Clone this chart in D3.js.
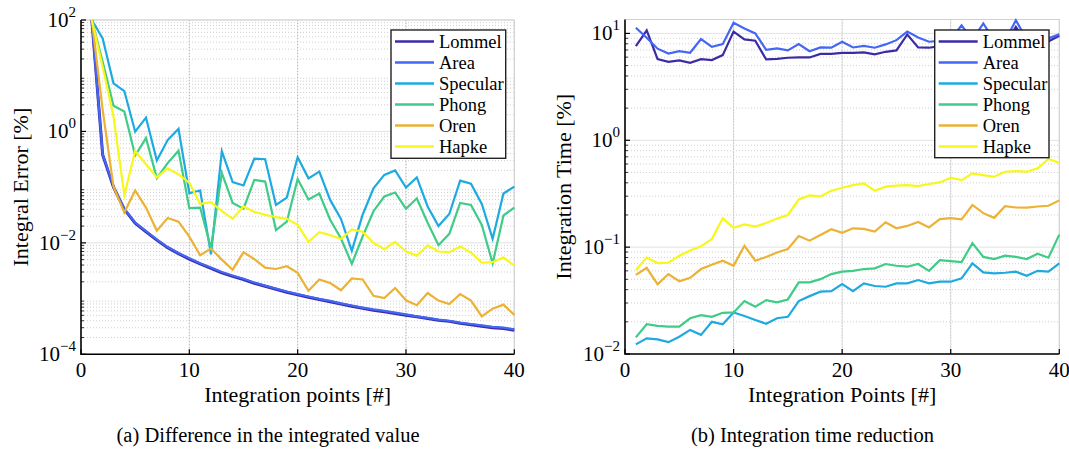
<!DOCTYPE html>
<html>
<head>
<meta charset="utf-8">
<script src="https://cdn.jsdelivr.net/npm/d3@7"></script>
<style>
  body { margin: 0; background: #fff; }
</style>
</head>
<body>
<svg id="fig" width="1069" height="449" font-family="'Liberation Serif', 'DejaVu Serif', serif"></svg>
<script>
// Number of integration points
const points = [1,2,3,4,5,6,7,8,9,10,11,12,13,14,15,16,17,18,19,20,
                21,22,23,24,25,26,27,28,29,30,31,32,33,34,35,36,37,38,39,40];

const seriesNames = ["Lommel", "Area", "Specular", "Phong", "Oren", "Hapke"];
const seriesColors = ["#3b2ca6", "#4466f5", "#1eaae0", "#3fcb88", "#ebb234", "#f7f71c"];

// (a) integral error [%]
const errLommel = [100,0.38,0.10,0.040,0.0225,0.0158,0.0112,0.0082,0.0064,0.0051,
  0.0042,0.0035,0.0029,0.0025,0.0022,0.00188,0.00166,0.00147,0.00130,0.00117,
  0.00106,0.00096,0.00088,0.00080,0.00073,0.00067,0.00062,0.00058,0.00054,0.00050,
  0.00047,0.00044,0.00041,0.00039,0.00036,0.00034,0.00032,0.00030,0.00029,0.00027];
const errArea = [100,0.39,0.103,0.041,0.0232,0.0163,0.0115,0.0084,0.0066,0.0053,
  0.0043,0.0036,0.0030,0.0026,0.00227,0.00194,0.00171,0.00151,0.00134,0.00120,
  0.00109,0.00099,0.00091,0.00082,0.00075,0.00069,0.00064,0.00060,0.00056,0.00052,
  0.00048,0.00045,0.00042,0.00040,0.00037,0.00035,0.00033,0.00031,0.00030,0.00028];
const errSpecular = [100,46.8,7.3,5.3,0.99,1.77,0.30,0.70,1.11,0.078,
  0.087,0.0062,0.44,0.123,0.107,0.326,0.317,0.048,0.065,0.344,
  0.144,0.19,0.059,0.027,0.0072,0.032,0.095,0.166,0.20,0.098,
  0.15,0.045,0.020,0.033,0.131,0.115,0.050,0.0118,0.077,0.102];
const errPhong = [100,17.8,2.9,2.27,0.37,0.76,0.145,0.27,0.45,0.042,
  0.043,0.008,0.18,0.052,0.041,0.135,0.126,0.017,0.024,0.14,
  0.060,0.077,0.026,0.012,0.0042,0.013,0.037,0.068,0.080,0.041,
  0.063,0.023,0.0091,0.0145,0.052,0.048,0.021,0.0043,0.031,0.043];
const errOren = [100,2.43,0.102,0.035,0.087,0.043,0.0165,0.028,0.024,0.0129,
  0.0060,0.0079,0.0050,0.0033,0.0068,0.0051,0.0036,0.0034,0.0038,0.0029,
  0.00138,0.0022,0.0019,0.00141,0.0023,0.0022,0.00112,0.00102,0.00155,0.00093,
  0.00076,0.00126,0.00092,0.00080,0.00120,0.00092,0.00048,0.00066,0.00078,0.00051];
const errHapke = [100,14.5,1.85,0.072,0.445,0.257,0.150,0.218,0.169,0.12,
  0.050,0.054,0.037,0.027,0.045,0.036,0.032,0.029,0.027,0.021,
  0.0104,0.0155,0.0138,0.0117,0.0174,0.0158,0.0100,0.0077,0.0104,0.0070,
  0.0059,0.0090,0.0070,0.0068,0.0086,0.0067,0.0044,0.0045,0.0055,0.0039];

// (b) integration time [%]
const timeLommel = [7.6,10.7,5.75,5.43,5.59,5.31,5.75,5.63,6.27,10.4,
  8.79,8.54,5.71,5.79,5.92,5.96,5.96,6.44,6.44,6.59,
  6.59,6.64,6.36,6.73,6.93,9.78,7.39,7.35,7.6,8.2,
  9.6,8.0,9.8,7.9,7.7,11.5,8.0,7.9,8.4,9.5];
const timeArea = [11.3,9.1,7.2,6.49,6.82,6.59,8.85,7.50,7.94,12.6,
  11.1,10.0,7.03,7.23,6.93,7.94,6.82,7.39,7.35,8.36,
  7.39,7.66,7.35,7.89,8.65,10.4,9.17,8.36,8.5,8.8,
  11.9,8.7,12.4,8.6,8.5,13.3,8.8,8.6,9.0,9.8];
const timeSpecular = [0.0123,0.014,0.0137,0.0129,0.0145,0.0168,0.0151,0.020,0.019,0.0245,
  0.0227,0.0208,0.0192,0.0216,0.0223,0.0313,0.0348,0.0383,0.0388,0.0452,
  0.0388,0.0458,0.0433,0.0426,0.0458,0.0458,0.0492,0.0458,0.0475,0.0475,
  0.051,0.0705,0.058,0.0568,0.0576,0.0589,0.054,0.060,0.0589,0.0705];
const timePhong = [0.0143,0.019,0.0183,0.018,0.018,0.0216,0.0231,0.0223,0.0243,0.0245,
  0.0313,0.0277,0.0319,0.0304,0.0324,0.0468,0.0468,0.0502,0.056,0.0589,
  0.060,0.0624,0.0633,0.0695,0.067,0.0656,0.0695,0.060,0.0755,0.074,
  0.0724,0.109,0.081,0.0773,0.0831,0.081,0.0773,0.0868,0.0796,0.131];
const timeOren = [0.055,0.064,0.0448,0.056,0.048,0.0517,0.0624,0.0685,0.0747,0.067,
  0.103,0.0747,0.081,0.089,0.096,0.127,0.115,0.130,0.147,0.136,
  0.150,0.148,0.140,0.171,0.150,0.158,0.172,0.153,0.183,0.187,
  0.182,0.248,0.208,0.188,0.242,0.235,0.234,0.240,0.244,0.274];
const timeHapke = [0.061,0.080,0.071,0.0715,0.083,0.093,0.102,0.119,0.186,0.152,
  0.163,0.156,0.168,0.185,0.20,0.279,0.305,0.298,0.337,0.36,
  0.381,0.395,0.337,0.368,0.376,0.381,0.373,0.39,0.403,0.446,
  0.424,0.49,0.472,0.456,0.508,0.515,0.508,0.546,0.668,0.617];

const xTicks = [0, 10, 20, 30, 40];
const errTickExps = [-4, -2, 0, 2];
const timeTickExps = [-2, -1, 0, 1];

const FONT = "'Liberation Serif', 'DejaVu Serif', serif";
const svg = d3.select("#fig");

function drawPanel(cfg) {
  const g = svg.append("g").attr("font-family", FONT);
  const x = d3.scaleLinear().domain([0, 40]).range([cfg.left, cfg.right]);
  const y = d3.scaleLog().domain(cfg.yDomain).range([cfg.bottom, cfg.top]);

  // minor horizontal grid (dotted)
  const minor = [];
  const lo = Math.floor(Math.log10(cfg.yDomain[0])), hi = Math.ceil(Math.log10(cfg.yDomain[1]));
  for (let k = lo; k < hi; k++) for (let m = 2; m <= 9; m++) {
    const v = m * Math.pow(10, k);
    if (v > cfg.yDomain[0] && v < cfg.yDomain[1]) minor.push(v);
  }
  g.selectAll(".ymin").data(minor).join("line")
    .attr("x1", cfg.left).attr("x2", cfg.right)
    .attr("y1", d => y(d)).attr("y2", d => y(d))
    .attr("stroke", "#c4c4c4").attr("stroke-width", 0.8).attr("stroke-dasharray", "1,2");

  // major grid
  const majors = cfg.tickExps.map(e => Math.pow(10, e));
  g.selectAll(".ymaj").data(majors).join("line")
    .attr("x1", cfg.left).attr("x2", cfg.right)
    .attr("y1", d => y(d)).attr("y2", d => y(d))
    .attr("stroke", "#e2e2e2").attr("stroke-width", 1);
  g.selectAll(".xmaj").data(xTicks.slice(1, -1)).join("line")
    .attr("x1", d => x(d)).attr("x2", d => x(d))
    .attr("y1", cfg.top).attr("y2", cfg.bottom)
    .attr("stroke", "#e6e6e6").attr("stroke-width", 1);
  g.selectAll(".xmajd").data(xTicks.slice(1, -1)).join("line")
    .attr("x1", d => x(d)).attr("x2", d => x(d))
    .attr("y1", cfg.top).attr("y2", cfg.bottom)
    .attr("stroke", "#a8a8a8").attr("stroke-width", 0.8).attr("stroke-dasharray", "1,2");

  // top and right frame
  g.append("path")
    .attr("d", `M${cfg.left},${cfg.top}H${cfg.right}V${cfg.bottom}`)
    .attr("fill", "none").attr("stroke", "#d0d0d0").attr("stroke-width", 1.2);

  // data lines
  const line = d3.line().x((d, i) => x(points[i])).y(d => y(d));
  const clipId = "clip" + cfg.id;
  svg.append("clipPath").attr("id", clipId).append("rect")
    .attr("x", cfg.left).attr("y", cfg.top - 2)
    .attr("width", cfg.right - cfg.left + 2).attr("height", cfg.bottom - cfg.top + 2);
  const lg = g.append("g").attr("clip-path", `url(#${clipId})`);
  cfg.series.forEach((s, i) => {
    lg.append("path").datum(s)
      .attr("d", line).attr("fill", "none")
      .attr("stroke", seriesColors[i]).attr("stroke-width", cfg.lw[i])
      .attr("stroke-miterlimit", 6);
  });

  // left & bottom axes with inward ticks
  const ax = g.append("g");
  ax.append("path")
    .attr("d", `M${cfg.left},${cfg.top}V${cfg.bottom}H${cfg.right}`)
    .attr("fill", "none").attr("stroke", "#000").attr("stroke-width", 1.6);
  ax.selectAll(".tmaj").data(majors).join("line")
    .attr("x1", cfg.left).attr("x2", cfg.left + 5)
    .attr("y1", d => y(d)).attr("y2", d => y(d))
    .attr("stroke", "#000").attr("stroke-width", 1.2);
  ax.selectAll(".tmin").data(minor).join("line")
    .attr("x1", cfg.left).attr("x2", cfg.left + 3)
    .attr("y1", d => y(d)).attr("y2", d => y(d))
    .attr("stroke", "#000").attr("stroke-width", 0.8);
  ax.selectAll(".tx").data(xTicks).join("line")
    .attr("x1", d => x(d)).attr("x2", d => x(d))
    .attr("y1", cfg.bottom).attr("y2", cfg.bottom - 5)
    .attr("stroke", "#000").attr("stroke-width", 1.2);

  // x tick labels
  g.selectAll(".xl").data(xTicks).join("text")
    .attr("x", d => x(d)).attr("y", cfg.bottom + 23)
    .attr("text-anchor", "middle").attr("font-size", 21)
    .text(d => d);

  // y tick labels with exponents
  cfg.tickExps.forEach(e => {
    const t = g.append("text")
      .attr("x", cfg.left - 5).attr("y", y(Math.pow(10, e)) + 7)
      .attr("text-anchor", "end").attr("font-size", 21);
    t.append("tspan").text("10");
    t.append("tspan").attr("dy", -10).attr("font-size", 15)
      .text(e < 0 ? "\u2212" + (-e) : String(e));
  });

  // axis titles
  g.append("text")
    .attr("x", (cfg.left + cfg.right) / 2).attr("y", 402)
    .attr("text-anchor", "middle").attr("font-size", 22)
    .text(cfg.xTitle);
  g.append("text")
    .attr("transform", `translate(${cfg.yTitleX},${(cfg.top + cfg.bottom) / 2}) rotate(-90)`)
    .attr("text-anchor", "middle").attr("font-size", 22)
    .text(cfg.yTitle);

  // caption
  g.append("text")
    .attr("x", cfg.captionX).attr("y", 442)
    .attr("text-anchor", "middle").attr("font-size", 20.5)
    .text(cfg.caption);

  // legend
  const L = cfg.legend;
  const leg = g.append("g");
  leg.append("rect")
    .attr("x", L.x).attr("y", L.y).attr("width", L.w).attr("height", L.h)
    .attr("fill", "#fff").attr("stroke", "#222").attr("stroke-width", 1.4);
  seriesNames.forEach((name, i) => {
    const yy = L.y + 11.5 + i * 21;
    leg.append("line")
      .attr("x1", L.x + 4).attr("x2", L.x + 43)
      .attr("y1", yy).attr("y2", yy)
      .attr("stroke", seriesColors[i]).attr("stroke-width", 2.4);
    leg.append("text")
      .attr("x", L.x + 48).attr("y", yy + 6)
      .attr("font-size", 18.5).text(name);
  });
}

drawPanel({
  id: "a",
  left: 81, right: 514.3, top: 20, bottom: 354.3,
  yDomain: [1e-4, 1e2],
  tickExps: errTickExps,
  series: [errLommel, errArea, errSpecular, errPhong, errOren, errHapke],
  lw: [3, 2.2, 2.2, 2.2, 2.2, 2.2],
  xTitle: "Integration points [#]",
  yTitle: "Integral Error [%]",
  yTitleX: 28,
  caption: "(a) Difference in the integrated value",
  captionX: 268,
  legend: { x: 391, y: 30, w: 114.7, h: 128.3 }
});

drawPanel({
  id: "b",
  left: 625, right: 1059.3, top: 19.5, bottom: 354,
  yDomain: [1e-2, 13.5],
  tickExps: timeTickExps,
  series: [timeLommel, timeArea, timeSpecular, timePhong, timeOren, timeHapke],
  lw: [2.2, 2.2, 2.2, 2.2, 2.2, 2.2],
  xTitle: "Integration Points [#]",
  yTitle: "Integration Time [%]",
  yTitleX: 571,
  caption: "(b) Integration time reduction",
  captionX: 812.5,
  legend: { x: 934.7, y: 30, w: 114.3, h: 127.7 }
});
</script>
</body>
</html>
